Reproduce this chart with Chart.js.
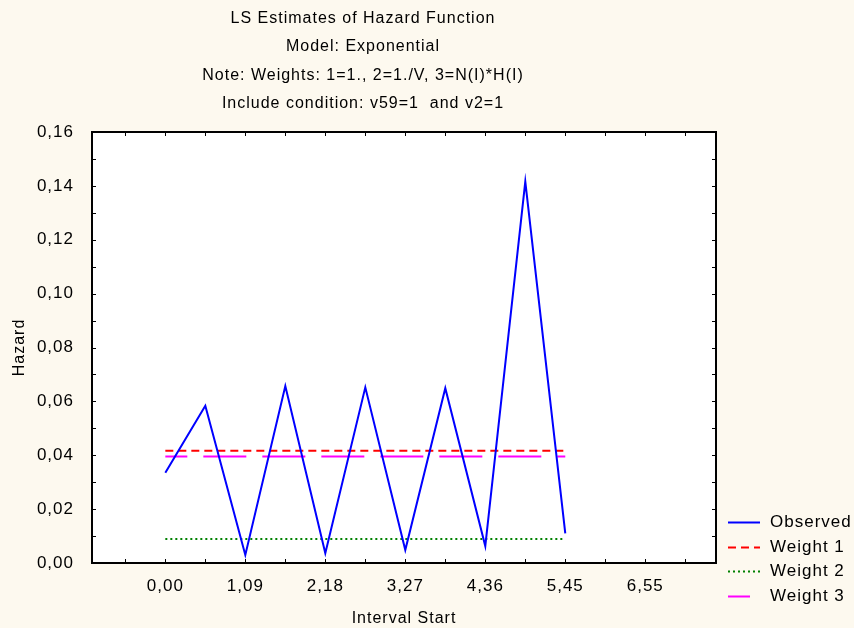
<!DOCTYPE html>
<html>
<head>
<meta charset="utf-8">
<script src="https://cdn.jsdelivr.net/npm/chart.js@4"></script>
<style>
  html, body { margin: 0; padding: 0; background: #FDF9EF; }
  canvas { display: block; }
</style>
</head>
<body>
<canvas id="hazardChart" width="854" height="628"></canvas>
<script>
// chart values
const TITLE_LINES = [
    'LS Estimates of Hazard Function',
    'Model: Exponential',
    'Note: Weights: 1=1., 2=1./V, 3=N(I)*H(I)',
    'Include condition: v59=1  and v2=1'
];
const intervalStart = [0, 0.5454, 1.0909, 1.6364, 2.1818, 2.7273, 3.2727, 3.8182, 4.3636, 4.9091, 5.4545];
const observed = [0.0335, 0.0584, 0.0030, 0.0657, 0.0036, 0.0652, 0.0048, 0.0649, 0.0063, 0.1416, 0.0110];
const weight1 = 0.0417;
const weight2 = 0.0089;
const weight3 = 0.0395;

const xTicks = [-0.5454, 0, 0.5454, 1.0909, 1.6364, 2.1818, 2.7273, 3.2727, 3.8182, 4.3636, 4.9091, 5.4545, 6.0000, 6.5454, 7.0909];
const xTickLabels = ['', '0,00', '', '1,09', '', '2,18', '', '3,27', '', '4,36', '', '5,45', '', '6,55', ''];
const yTicks = [0, 0.01, 0.02, 0.03, 0.04, 0.05, 0.06, 0.07, 0.08, 0.09, 0.10, 0.11, 0.12, 0.13, 0.14, 0.15, 0.16];
const yTickLabels = ['0,00', '', '0,02', '', '0,04', '', '0,06', '', '0,08', '', '0,10', '', '0,12', '', '0,14', '', '0,16'];

const FONT = 'Liberation Sans, Arial, sans-serif';
const firstX = intervalStart[0];
const lastX = intervalStart[intervalStart.length - 1];

// cream page, white plot, black frame with inward ticks
const framePlugin = {
    id: 'frame',
    beforeUpdate(chart) { chart.ctx.letterSpacing = '1px'; },
    beforeDraw(chart) {
        const { ctx, chartArea: a } = chart;
        ctx.letterSpacing = '1px';
        ctx.save();
        ctx.fillStyle = '#FDF9EF';
        ctx.fillRect(0, 0, chart.width, chart.height);
        ctx.fillStyle = '#ffffff';
        ctx.fillRect(a.left, a.top, a.right - a.left, a.bottom - a.top);

        // titles
        ctx.fillStyle = '#000';
        ctx.font = '16px ' + FONT;
        ctx.textAlign = 'center';
        ctx.textBaseline = 'middle';
        const ys = [19, 47, 76, 104];
        TITLE_LINES.forEach((t, i) => ctx.fillText(t, 363, ys[i]));
        ctx.restore();
    },
    beforeDatasetsDraw(chart) {
        const { ctx, chartArea: a, scales } = chart;
        ctx.save();
        ctx.strokeStyle = '#000';
        ctx.lineWidth = 1;
        ctx.beginPath();
        scales.x.ticks.forEach(t => {
            const px = Math.round(scales.x.getPixelForValue(t.value)) + 0.5;
            ctx.moveTo(px, a.bottom); ctx.lineTo(px, a.bottom - 4);
            ctx.moveTo(px, a.top); ctx.lineTo(px, a.top + 4);
        });
        scales.y.ticks.forEach(t => {
            const py = Math.round(scales.y.getPixelForValue(t.value)) + 0.5;
            ctx.moveTo(a.left, py); ctx.lineTo(a.left + 4, py);
            ctx.moveTo(a.right, py); ctx.lineTo(a.right - 4, py);
        });
        ctx.stroke();
        ctx.lineWidth = 2;
        ctx.strokeRect(a.left, a.top, a.right - a.left, a.bottom - a.top);
        ctx.restore();
    },
    afterDraw(chart) {
        // legend at lower right
        const ctx = chart.ctx;
        const rows = [522, 547, 571, 596];
        ctx.save();
        ctx.font = '17px ' + FONT;
        ctx.textBaseline = 'middle';
        ctx.textAlign = 'left';
        chart.data.datasets.forEach((ds, i) => {
            const y = rows[i] + 0.5;
            ctx.strokeStyle = ds.borderColor;
            ctx.lineWidth = ds.borderWidth;
            ctx.setLineDash(ds.borderDash || []);
            ctx.beginPath();
            ctx.moveTo(728, y);
            ctx.lineTo(i === 3 ? 750 : 760, y);
            ctx.stroke();
            ctx.setLineDash([]);
            ctx.fillStyle = '#000';
            ctx.fillText(ds.label, 770, rows[i]);
        });
        ctx.restore();
    }
};

const chart = new Chart(document.getElementById('hazardChart'), {
    type: 'line',
    data: {
        datasets: [
            {
                label: 'Observed',
                data: intervalStart.map((x, i) => ({ x, y: observed[i] })),
                borderColor: '#0000FF', borderWidth: 2, pointRadius: 0, tension: 0
            },
            {
                label: 'Weight 1',
                data: [{ x: firstX, y: weight1 }, { x: lastX, y: weight1 }],
                borderColor: '#FF0000', borderWidth: 2, borderDash: [8, 5], pointRadius: 0
            },
            {
                label: 'Weight 2',
                data: [{ x: firstX, y: weight2 }, { x: lastX, y: weight2 }],
                borderColor: '#008000', borderWidth: 2, borderDash: [2, 3], pointRadius: 0
            },
            {
                label: 'Weight 3',
                data: [{ x: firstX, y: weight3 }, { x: lastX, y: weight3 }],
                borderColor: '#FF00FF', borderWidth: 2, borderDash: [43, 16], borderDashOffset: 21, pointRadius: 0
            }
        ]
    },
    options: {
        responsive: false,
        animation: false,
        devicePixelRatio: 1,
        layout: { padding: { top: 132, right: 138, left: 0, bottom: 0 } },
        plugins: {
            legend: { display: false },
            title: { display: false },
            tooltip: { enabled: false }
        },
        scales: {
            x: {
                type: 'linear',
                min: -1.0,
                max: 7.51,
                afterBuildTicks: s => { s.ticks = xTicks.map(v => ({ value: v })); },
                afterFit: s => { s.height = 65; },
                grid: { display: false },
                border: { display: false },
                ticks: {
                    autoSkip: false,
                    maxRotation: 0,
                    padding: 5,
                    color: '#000',
                    font: { family: FONT, size: 17 },
                    callback: (v, i) => xTickLabels[i]
                },
                title: {
                    display: true,
                    text: 'Interval Start',
                    color: '#000',
                    font: { family: FONT, size: 16 },
                    padding: { top: 0, bottom: 0 }
                }
            },
            y: {
                min: 0,
                max: 0.16,
                afterBuildTicks: s => { s.ticks = yTicks.map(v => ({ value: v })); },
                afterFit: s => { s.width = 92; },
                grid: { display: false },
                border: { display: false },
                ticks: {
                    autoSkip: false,
                    padding: 10,
                    color: '#000',
                    font: { family: FONT, size: 17 },
                    callback: (v, i) => yTickLabels[i]
                },
                title: {
                    display: true,
                    text: 'Hazard',
                    color: '#000',
                    font: { family: FONT, size: 16 },
                    padding: { top: 10, bottom: 0 }
                }
            }
        }
    },
    plugins: [framePlugin]
});
</script>
</body>
</html>
